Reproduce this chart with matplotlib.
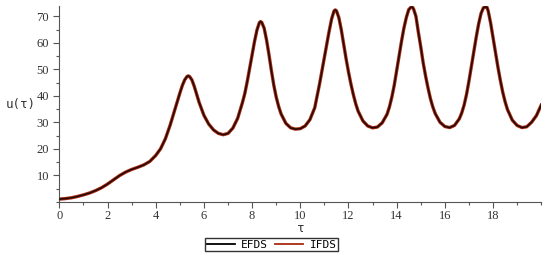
import matplotlib
matplotlib.use("Agg")
import matplotlib.pyplot as plt
from matplotlib.ticker import MultipleLocator

# values
tau = [0.0, 0.25, 0.5, 0.75, 1.0, 1.25, 1.5, 1.75, 2.0, 2.25, 2.5, 2.75, 3.0, 3.25,
       3.5, 3.75, 4.0, 4.2, 4.4, 4.6, 4.8, 5.0, 5.1, 5.2, 5.3, 5.35, 5.4, 5.5, 5.6,
       5.7, 5.8, 5.9, 6.0, 6.2, 6.4, 6.6, 6.8, 7.0, 7.2, 7.4, 7.6, 7.7, 7.8, 7.9,
       8.0, 8.1, 8.2, 8.3, 8.35, 8.4, 8.5, 8.6, 8.7, 8.8, 8.9, 9.0, 9.1, 9.2, 9.4,
       9.6, 9.8, 10.0, 10.2, 10.4, 10.6, 10.7, 10.8, 10.9, 11.0, 11.1, 11.2, 11.3,
       11.4, 11.45, 11.5, 11.6, 11.7, 11.8, 11.9, 12.0, 12.1, 12.2, 12.3, 12.4,
       12.6, 12.8, 13.0, 13.2, 13.4, 13.6, 13.7, 13.8, 13.9, 14.0, 14.1, 14.2,
       14.3, 14.4, 14.5, 14.6, 14.65, 14.7, 14.8, 14.9, 15.0, 15.1, 15.2, 15.3,
       15.4, 15.5, 15.6, 15.8, 16.0, 16.2, 16.4, 16.6, 16.7, 16.8, 16.9, 17.0,
       17.1, 17.2, 17.3, 17.4, 17.5, 17.6, 17.7, 17.75, 17.8, 17.9, 18.0, 18.1,
       18.2, 18.3, 18.4, 18.5, 18.6, 18.8, 19.0, 19.2, 19.4, 19.6, 19.8, 20.0]

efds = [1.0, 1.2, 1.5, 2.0, 2.6, 3.3, 4.2, 5.3, 6.7, 8.3, 9.9, 11.2, 12.2, 13.0,
        13.9, 15.2, 17.5, 20.0, 23.8, 29.0, 35.0, 41.0, 43.8, 46.0, 47.3, 47.5, 47.3,
        46.0, 43.5, 40.5, 37.5, 35.0, 32.6, 29.3, 27.1, 25.8, 25.3, 25.8, 27.8, 31.5,
        37.5, 41.0, 45.5, 50.5, 55.5, 60.5, 64.8, 67.6, 68.0, 67.7, 65.5, 61.0, 55.5,
        49.5, 44.0, 39.5, 36.0, 33.2, 29.6, 27.9, 27.4, 27.6, 28.6, 31.0, 35.5, 40.0,
        44.5, 49.5, 54.5, 59.5, 64.5, 69.0, 72.0, 72.4, 72.1, 69.5, 65.0, 59.5, 54.0,
        49.0, 44.5, 40.5, 37.0, 34.2, 30.5, 28.6, 27.9, 28.2, 29.8, 33.0, 35.8, 39.5,
        44.0, 49.5, 55.0, 60.5, 65.5, 69.5, 72.5, 73.5, 73.5, 72.8, 70.0, 64.0, 58.5,
        52.5, 47.5, 43.0, 39.0, 35.8, 33.3, 30.0, 28.4, 28.0, 28.8, 31.3, 33.5, 36.5,
        40.5, 45.5, 51.0, 56.5, 62.0, 67.0, 71.0, 73.2, 73.6, 73.4, 72.0, 67.5, 62.0,
        56.5, 51.0, 46.0, 41.5, 37.8, 34.8, 30.8, 28.8, 28.0, 28.3, 30.0, 32.5, 36.5]

# the two schemes agree to within line width
ifds = list(efds)

fig = plt.figure(figsize=(5.5, 2.59), dpi=100)
ax = fig.add_axes([0.108, 0.221, 0.876, 0.757])

ax.plot(tau, ifds, color="#a82a12", lw=2.4, label="IFDS", zorder=2)
ax.plot(tau, efds, color="black", lw=1.1, alpha=0.8, label="EFDS", zorder=3)

ax.set_xlim(0, 20)
ax.set_ylim(0, 74)
ax.set_xticks([0, 2, 4, 6, 8, 10, 12, 14, 16, 18])
ax.set_yticks([10, 20, 30, 40, 50, 60, 70])
ax.xaxis.set_minor_locator(MultipleLocator(1))
ax.yaxis.set_minor_locator(MultipleLocator(5))

for s in ["top", "right"]:
    ax.spines[s].set_visible(False)
for s in ["left", "bottom"]:
    ax.spines[s].set_color("#555555")
    ax.spines[s].set_linewidth(0.8)

ax.tick_params(which="both", direction="out", color="#555555", width=0.8,
               labelcolor="#333333", labelsize=9)
ax.tick_params(which="major", length=4)
ax.tick_params(which="minor", length=2)
ax.tick_params(axis="x", pad=2)
for lab in ax.get_xticklabels() + ax.get_yticklabels():
    lab.set_fontfamily("Liberation Serif")

fig.text(0.037, 0.595, "u(τ)", fontsize=9, family="DejaVu Sans Mono",
         color="#333333", ha="center", va="center")
fig.text(0.547, 0.118, "τ", fontsize=9, family="DejaVu Sans Mono",
         color="#333333", ha="center", va="center")

h, l = ax.get_legend_handles_labels()
leg = fig.legend([h[1], h[0]], [l[1], l[0]], loc="center",
                 bbox_to_anchor=(0.494, 0.055), ncol=2, frameon=True,
                 fancybox=False, prop={"family": "DejaVu Sans Mono", "size": 8},
                 handlelength=2.5, borderpad=0.15, columnspacing=0.6,
                 handletextpad=0.6, borderaxespad=0)
leg.get_frame().set_edgecolor("black")
leg.get_frame().set_linewidth(1.0)
leg.legend_handles[0].set_linewidth(1.3)
leg.legend_handles[0].set_alpha(1)
leg.legend_handles[1].set_linewidth(1.3)

fig.savefig("out.png", dpi=100)
